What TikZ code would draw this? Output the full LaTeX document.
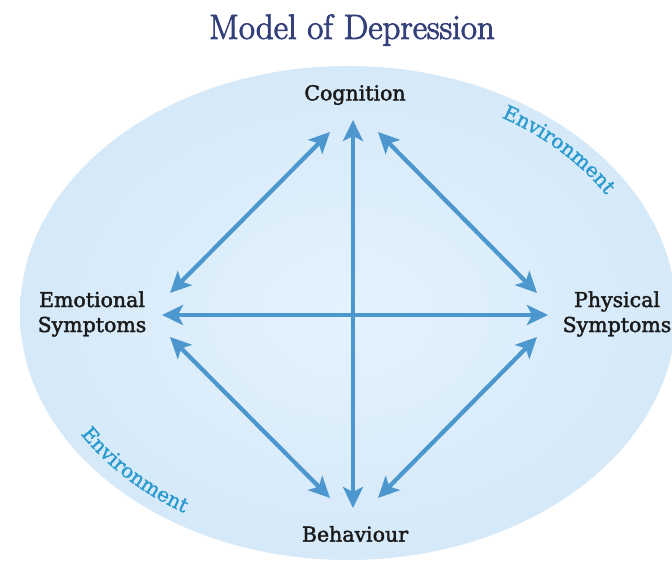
\documentclass[tikz,border=0pt]{standalone}
\usepackage{fontspec}
\newfontfamily\labelfont[FakeBold=2]{DejaVu Serif}
\newfontfamily\envfont[FakeBold=1.2]{DejaVu Serif}
\newfontfamily\titlefont[FakeBold=2.5]{Latin Modern Roman}
\usetikzlibrary{arrows.meta,decorations.text}
\definecolor{arrowblue}{HTML}{4C97CE}
\definecolor{envblue}{HTML}{2A9ACE}
\definecolor{titleblue}{HTML}{34407A}
\definecolor{ellin}{HTML}{E4F2FD}
\definecolor{ellout}{HTML}{D5E9F9}
\definecolor{labelblack}{HTML}{1A1A1A}
\begin{document}
\begin{tikzpicture}[x=1pt,y=1pt,
  lbl/.style={font=\labelfont\fontsize{20.5}{25}\selectfont, text=labelblack, align=center, inner sep=0pt},
  conn/.style={draw=arrowblue, line width=4.2pt, {Stealth[length=21pt,width=20pt,inset=5pt]}-{Stealth[length=21pt,width=20pt,inset=5pt]}},
  envtext/.style={decorate, decoration={text along path, text={|\envfont\fontsize{20}{22}\selectfont|Environment}, text align=center, text color=envblue}}
]
\useasboundingbox (0,0) rectangle (672,561);
\fill[white] (0,0) rectangle (672,561);
\begin{scope}
\clip (0,0) rectangle (672,561);
\shade[inner color=ellin, outer color=ellout] (348,248) ellipse [x radius=328, y radius=247];
\end{scope}
% title
\node[font=\titlefont\fontsize{35}{40}\selectfont, text=titleblue, inner sep=0pt] (title) at (352,531) {Model of Depression};
% labels
\node[lbl] (cog) at (355,466) {Cognition};
\node[lbl] (beh) at (355,27) {Behaviour};
\node[lbl] (emo) at (92,247) {Emotional\\Symptoms};
\node[lbl] (phy) at (617,247) {Physical\\Symptoms};
% arrow endpoints
\coordinate (vT) at (353,441);
\coordinate (vB) at (353,53);
\coordinate (hL) at (162,246);
\coordinate (hR) at (548,246);
\coordinate (tlA) at (170,268);
\coordinate (tlB) at (330,429);
\coordinate (trA) at (378,429);
\coordinate (trB) at (537,268);
\coordinate (blA) at (170,224);
\coordinate (blB) at (330,63);
\coordinate (brA) at (378,63);
\coordinate (brB) at (537,224);
\draw[conn] (vB) -- (vT);
\draw[conn] (hL) -- (hR);
\draw[conn] (tlA) -- (tlB);
\draw[conn] (trA) -- (trB);
\draw[conn] (blA) -- (blB);
\draw[conn] (brA) -- (brB);
% environment texts
\path[envtext] (348,248) ++(64:302 and 227) arc[start angle=64, end angle=26, x radius=302, y radius=227];
\path[envtext] (348,248) ++(202:312 and 235) arc[start angle=202, end angle=246, x radius=312, y radius=235];
\end{tikzpicture}
\end{document}
